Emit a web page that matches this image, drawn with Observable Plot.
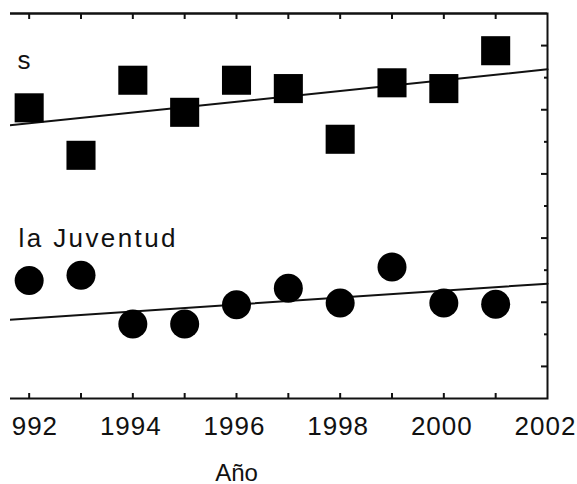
<!DOCTYPE html>
<html>
<head>
<meta charset="utf-8">
<script src="https://cdn.jsdelivr.net/npm/d3@7"></script>
<script src="https://cdn.jsdelivr.net/npm/@observablehq/plot@0.6"></script>
<style>
  html, body { margin: 0; padding: 0; background: #fff; }
  #clip { position: absolute; left: 10px; top: 0; width: 567px; height: 484px; overflow: hidden; }
  #chart { position: absolute; left: -100px; top: 0; }
</style>
</head>
<body>
<div id="clip"><div id="chart"></div></div>
<script>
// Data
const years = [1992, 1993, 1994, 1995, 1996, 1997, 1998, 1999, 2000, 2001];
const squareValues = [50.3, 42.9, 54.6, 49.6, 54.6, 53.3, 45.4, 54.2, 53.3, 59.2];
const circleValues = [23.4, 24.2, 16.6, 16.6, 19.6, 22.2, 19.9, 25.5, 19.9, 19.7];

// Trend lines (value at frame start and end)
const trendYears = [1990, 2002];
const squareTrend = [46.2, 56.3];
const circleTrend = [16.4, 22.9];

// Axis ticks
const xDomain = [1990, 2002];
const yDomain = [5, 65];
const tickYears = [1991, 1992, 1993, 1994, 1995, 1996, 1997, 1998, 1999, 2000, 2001];
const labelYears = [1990, 1992, 1994, 1996, 1998, 2000, 2002];
const majorY = [10, 20, 30, 40, 50, 60];
const minorY = [15, 25, 35, 45, 55];

const xLabel = "Año";
const seriesLabelTop = "s";
const seriesLabelBottom = "la Juventud";

const data = years.map((year, i) => ({year, squares: squareValues[i], circles: circleValues[i]}));
const trends = trendYears.map((year, i) => ({year, squares: squareTrend[i], circles: circleTrend[i]}));

const font = "'Liberation Sans', Arial, sans-serif";
const ink = "#111";

const chart = Plot.plot({
  width: 667,
  height: 484,
  marginLeft: 15,
  marginRight: 30,
  marginTop: 13,
  marginBottom: 86,
  style: {fontFamily: font, background: "white", maxWidth: "none", overflow: "visible", color: ink},
  x: {domain: xDomain, axis: null},
  y: {domain: yDomain, axis: null},
  marks: [
    Plot.frame({stroke: ink, strokeWidth: 2}),
    Plot.ruleY([yDomain[1]], {stroke: ink, strokeWidth: 2}),
    Plot.axisX(tickYears, {anchor: "top", tickSize: -5, strokeWidth: 2, tickFormat: () => "", label: null}),
    Plot.axisX(tickYears, {anchor: "bottom", tickSize: -5, strokeWidth: 2, tickFormat: () => "", label: null}),
    Plot.axisX(labelYears, {anchor: "bottom", tickSize: 0, tickPadding: 18, fontSize: 26, dx: -2, tickFormat: d => String(d), label: null}),
    Plot.axisY(majorY, {anchor: "right", tickSize: -7, strokeWidth: 2, tickFormat: () => "", label: null}),
    Plot.axisY(minorY, {anchor: "right", tickSize: -4, strokeWidth: 2, tickFormat: () => "", label: null}),
    Plot.line(trends, {x: "year", y: "squares", stroke: ink, strokeWidth: 2}),
    Plot.line(trends, {x: "year", y: "circles", stroke: ink, strokeWidth: 2}),
    Plot.dot(data, {x: "year", y: "squares", symbol: "square", r: 16.4, fill: "#000"}),
    Plot.dot(data, {x: "year", y: "circles", symbol: "circle", r: 14.5, fill: "#000"}),
    Plot.text([xLabel], {frameAnchor: "bottom", dy: 75, fontSize: 24, lineAnchor: "middle", fill: ink}),
    Plot.text([seriesLabelBottom], {frameAnchor: "top-left", textAnchor: "start", lineAnchor: "top", dx: 93, dy: 215, fontSize: 26, fill: ink}),
    Plot.text([seriesLabelTop], {frameAnchor: "top-left", textAnchor: "end", lineAnchor: "top", dx: 105, dy: 37, fontSize: 26, fill: ink})
  ]
});

chart.querySelectorAll("text").forEach(t => {
  if (t.textContent === seriesLabelBottom) t.setAttribute("letter-spacing", "2.4");
  if (/^\d{4}$/.test(t.textContent)) t.setAttribute("letter-spacing", "1");
});

document.getElementById("chart").appendChild(chart);
</script>
</body>
</html>
